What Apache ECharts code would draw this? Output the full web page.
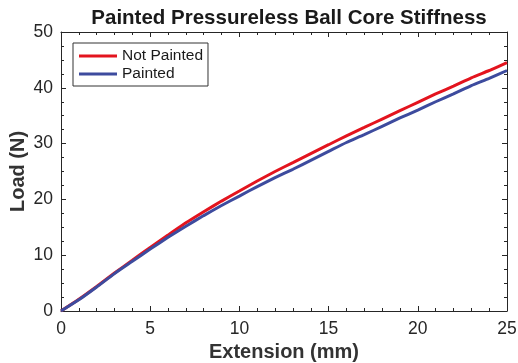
<!DOCTYPE html>
<html>
<head>
<meta charset="utf-8">
<script src="https://cdn.jsdelivr.net/npm/echarts@6/dist/echarts.min.js"></script>
<style>
  html, body { margin: 0; padding: 0; background: #fff; }
  #chart { width: 518px; height: 363px; }
</style>
</head>
<body>
<div id="chart"></div>
<script>
// Extension (mm) sample points
const extension = [0, 1, 2, 3, 4, 5, 6, 7, 8, 9, 10, 11, 12, 13, 14, 15, 16, 17, 18, 19, 20, 21, 22, 23, 24, 25];
// Load (N) for unpainted cores
const loadNotPainted = [0, 2.1, 4.4, 6.8, 9.1, 11.4, 13.6, 15.8, 17.8, 19.7, 21.5, 23.3, 25.0, 26.6, 28.2, 29.8, 31.4, 32.9, 34.4, 35.9, 37.4, 38.9, 40.3, 41.8, 43.1, 44.5];
// Load (N) for painted cores
const loadPainted = [0, 2.0, 4.3, 6.7, 8.9, 11.1, 13.2, 15.2, 17.1, 18.9, 20.6, 22.3, 23.9, 25.4, 27.0, 28.6, 30.2, 31.6, 33.1, 34.6, 36.0, 37.5, 38.9, 40.4, 41.7, 43.1];

const pairs = (xs, ys) => xs.map((x, i) => [x, ys[i]]);

const FONT = '"Liberation Sans", Arial, sans-serif';
const AXIS_COLOR = '#262626';

const frameAxis = (extra) => Object.assign({
  type: 'value',
  axisLine: { show: true, onZero: false, lineStyle: { color: AXIS_COLOR, width: 1 } },
  axisTick: { show: true, inside: true, length: 5, lineStyle: { color: AXIS_COLOR } },
  splitLine: { show: false },
  axisLabel: { show: false }
}, extra);

const chart = echarts.init(document.getElementById('chart'), null, { renderer: 'canvas' });

chart.setOption({
  animation: false,
  backgroundColor: '#fff',
  title: {
    text: 'Painted Pressureless Ball Core Stiffness',
    left: 284,
    textAlign: 'center',
    top: 3,
    textStyle: { fontFamily: FONT, fontWeight: 'bold', fontSize: 20.5, color: '#1a1a1a' }
  },
  legend: {
    orient: 'vertical',
    left: 73,
    top: 43,
    padding: [5, 5, 4, 6],
    itemGap: 2,
    icon: 'rect',
    itemWidth: 38,
    itemHeight: 3,
    borderColor: '#333',
    borderWidth: 1,
    borderRadius: 0,
    backgroundColor: '#fff',
    textStyle: { fontFamily: FONT, fontSize: 15.5, color: '#1a1a1a', lineHeight: 16 },
    data: ['Not Painted', 'Painted']
  },
  grid: { left: 61, right: 11, top: 32, bottom: 52, containLabel: false, outerBoundsMode: 'none' },
  xAxis: [
    frameAxis({
      position: 'bottom',
      min: 0, max: 25, interval: 5,
      minorTick: { show: true, splitNumber: 5, length: 3, lineStyle: { color: AXIS_COLOR } },
      axisLabel: { show: true, fontFamily: FONT, fontSize: 17.5, color: '#262626', margin: 9 },
      name: 'Extension (mm)',
      nameLocation: 'middle',
      nameGap: 30,
      nameTextStyle: { fontFamily: FONT, fontWeight: 'bold', fontSize: 20, color: '#333' }
    }),
    frameAxis({
      position: 'top',
      min: 0, max: 25, interval: 5,
      minorTick: { show: true, splitNumber: 5, length: 3, lineStyle: { color: AXIS_COLOR } }
    })
  ],
  yAxis: [
    frameAxis({
      position: 'left',
      min: 0, max: 50, interval: 10,
      minorTick: { show: true, splitNumber: 4, length: 3, lineStyle: { color: AXIS_COLOR } },
      axisLabel: { show: true, fontFamily: FONT, fontSize: 17.5, color: '#262626', margin: 8 },
      name: 'Load (N)',
      nameLocation: 'middle',
      nameGap: 33,
      nameMoveOverlap: false,
      nameTextStyle: { fontFamily: FONT, fontWeight: 'bold', fontSize: 20, color: '#333' }
    }),
    frameAxis({
      position: 'right',
      min: 0, max: 50, interval: 10,
      minorTick: { show: true, splitNumber: 4, length: 3, lineStyle: { color: AXIS_COLOR } }
    })
  ],
  series: [
    {
      name: 'Not Painted',
      type: 'line',
      xAxisIndex: 0, yAxisIndex: 0,
      data: pairs(extension, loadNotPainted),
      showSymbol: false,
      symbol: 'none',
      smooth: 0.2,
      lineStyle: { color: '#e3141e', width: 3 },
      itemStyle: { color: '#e3141e' }
    },
    {
      name: 'Painted',
      type: 'line',
      xAxisIndex: 0, yAxisIndex: 0,
      data: pairs(extension, loadPainted),
      showSymbol: false,
      symbol: 'none',
      smooth: 0.2,
      lineStyle: { color: '#3d4b9e', width: 3 },
      itemStyle: { color: '#3d4b9e' }
    }
  ]
});
</script>
</body>
</html>
